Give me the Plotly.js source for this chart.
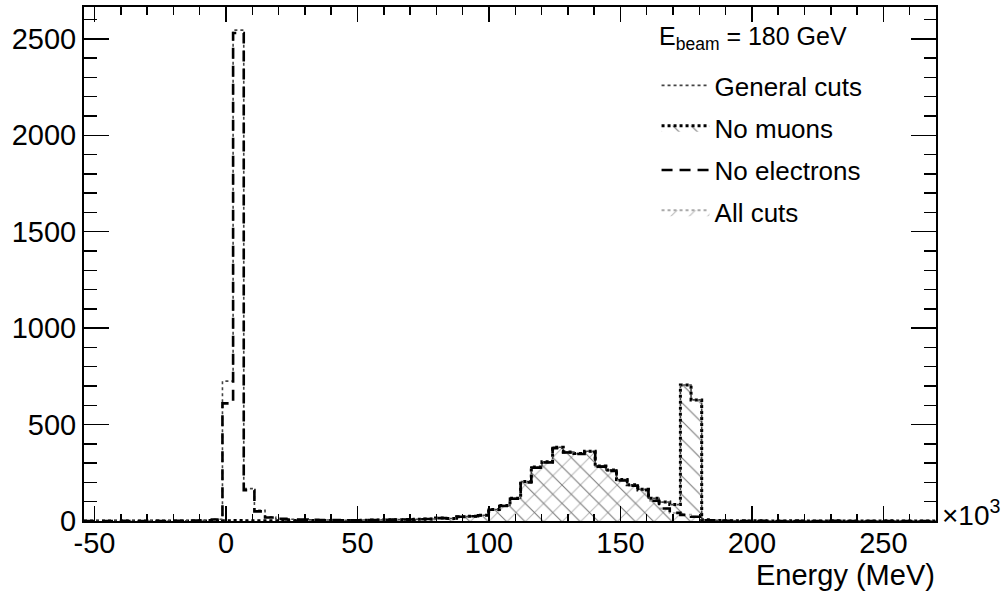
<!DOCTYPE html>
<html>
<head>
<meta charset="utf-8">
<script src="https://cdn.plot.ly/plotly-3.0.1.min.js"></script>
<style>
  html, body { margin: 0; padding: 0; background: #fff; }
  #chart { width: 1002px; height: 593px; }
</style>
</head>
<body>
<div id="chart"></div>
<script>
// Histogram binning (energy in GeV, axis shows x10^3 MeV)
const binLow = -54;
const binWidth = 4.05;
const nBins = 80;

// Bin contents
const generalCuts = [
  0, 0, 0, 1, 0, 0, 1, 0, 1, 1,
  2, 3, 9, 725, 2545, 168, 55, 20, 12, 9,
  7, 6, 5, 5, 4, 4, 5, 5, 6, 7,
  8, 9, 10, 15, 13, 22, 25, 30, 60, 80,
  118, 205, 280, 307, 382, 358, 350, 362, 285, 265,
  215, 188, 165, 118, 98, 85, 705, 628, 6, 3,
  1, 1, 0, 1, 0, 0, 1, 0, 0, 0,
  1, 0, 0, 0, 0, 1, 0, 0, 0, 0
];
const noMuons = [
  0, 0, 0, 0, 0, 0, 0, 0, 0, 0,
  0, 0, 0, 1, 2, 1, 1, 1, 1, 2,
  2, 2, 2, 3, 3, 3, 4, 5, 6, 7,
  8, 9, 10, 15, 13, 22, 25, 30, 60, 80,
  118, 205, 280, 307, 382, 358, 350, 362, 285, 265,
  215, 188, 165, 118, 98, 85, 705, 628, 6, 3,
  1, 1, 0, 1, 0, 0, 1, 0, 0, 0,
  1, 0, 0, 0, 0, 1, 0, 0, 0, 0
];
const noElectrons = [
  0, 0, 0, 1, 0, 0, 1, 0, 1, 1,
  2, 3, 8, 610, 2530, 160, 50, 18, 11, 8,
  7, 6, 5, 5, 4, 4, 5, 5, 6, 7,
  8, 9, 10, 15, 13, 22, 25, 30, 58, 78,
  115, 200, 276, 303, 378, 355, 347, 358, 282, 260,
  210, 183, 160, 105, 65, 42, 32, 22, 4, 2,
  1, 0, 0, 1, 0, 0, 0, 0, 0, 0,
  1, 0, 0, 0, 0, 0, 0, 0, 0, 0
];
const allCuts = [
  0, 0, 0, 0, 0, 0, 0, 0, 0, 0,
  0, 0, 0, 1, 2, 1, 1, 1, 1, 2,
  2, 2, 2, 3, 3, 3, 4, 5, 6, 7,
  8, 9, 10, 15, 13, 22, 25, 30, 58, 78,
  115, 200, 276, 303, 378, 355, 347, 358, 282, 260,
  210, 183, 160, 105, 65, 42, 32, 22, 4, 2,
  1, 0, 0, 1, 0, 0, 0, 0, 0, 0,
  1, 0, 0, 0, 0, 0, 0, 0, 0, 0
];

const xTickVals = [-50, 0, 50, 100, 150, 200, 250];
const xTickText = ['-50', '0', '50', '100', '150', '200', '250'];
const yTickVals = [0, 500, 1000, 1500, 2000, 2500];

// Step outline from the bin definition
function stepX() {
  const xs = [];
  for (let i = 0; i <= nBins; i++) xs.push(binLow + i * binWidth);
  return xs;
}
function stepY(vals) {
  return vals.concat([vals[vals.length - 1]]);
}
const edges = stepX();

const FONT = 'Liberation Sans, Arial, Helvetica, sans-serif';

const traces = [
  {
    name: 'All cuts', legendrank: 4, legendgroup: 'g4',
    x: edges, y: stepY(allCuts), type: 'scatter', mode: 'lines',
    line: { shape: 'hv', color: '#aaaaaa', width: 2, dash: 'dot' },
    fill: 'tozeroy', fillcolor: 'rgba(0,0,0,0)',
    fillpattern: { shape: '/', fgcolor: '#b8b8b8', bgcolor: 'rgba(0,0,0,0)', size: 13, solidity: 0.08 },
    hoverinfo: 'skip'
  },
  {
    name: 'No muons', legendrank: 2, legendgroup: 'g2',
    x: edges, y: stepY(noMuons), type: 'scatter', mode: 'lines',
    line: { shape: 'hv', color: '#000000', width: 3, dash: 'dot' },
    fill: 'tozeroy', fillcolor: 'rgba(0,0,0,0)',
    fillpattern: { shape: '\\', fgcolor: '#777777', bgcolor: 'rgba(0,0,0,0)', size: 13, solidity: 0.08 },
    hoverinfo: 'skip'
  },
  {
    name: 'General cuts', legendrank: 1, legendgroup: 'g1',
    x: edges, y: stepY(generalCuts), type: 'scatter', mode: 'lines',
    line: { shape: 'hv', color: '#444444', width: 1.6, dash: 'dot' },
    hoverinfo: 'skip'
  },
  {
    name: 'No electrons', legendrank: 3, legendgroup: 'g3',
    x: edges, y: stepY(noElectrons), type: 'scatter', mode: 'lines',
    line: { shape: 'hv', color: '#000000', width: 2.6, dash: '11px,7px' },
    hoverinfo: 'skip'
  }
];

const layout = {
  width: 1002, height: 593,
  margin: { l: 84, r: 66, t: 7, b: 72 },
  paper_bgcolor: '#ffffff', plot_bgcolor: '#ffffff',
  font: { family: FONT, color: '#000', size: 29 },
  showlegend: true,
  legend: {
    x: 0.672, xanchor: 'left', y: 0.893, yanchor: 'top',
    bgcolor: 'rgba(0,0,0,0)', borderwidth: 0,
    font: { family: FONT, size: 26, color: '#000' },
    itemwidth: 48, traceorder: 'grouped', tracegroupgap: 5.5
  },
  xaxis: {
    range: [-54, 270], tickmode: 'array', tickvals: xTickVals, ticktext: xTickText,
    ticks: 'inside', ticklen: 15, tickwidth: 1.5, tickcolor: '#000',
    minor: { dtick: 10, tick0: 0, ticks: 'inside', ticklen: 7.5, tickwidth: 1.5, tickcolor: '#000' },
    showline: true, linewidth: 2, linecolor: '#000', mirror: 'allticks',
    showgrid: false, zeroline: false, ticklabelstandoff: -5,
    tickfont: { family: FONT, size: 29, color: '#000' }
  },
  yaxis: {
    range: [0, 2665], tickmode: 'array', tickvals: yTickVals,
    ticks: 'inside', ticklen: 25, tickwidth: 1.5, tickcolor: '#000',
    minor: { dtick: 100, tick0: 0, ticks: 'inside', ticklen: 12.5, tickwidth: 1.5, tickcolor: '#000' },
    showline: true, linewidth: 2, linecolor: '#000', mirror: 'allticks',
    showgrid: false, zeroline: false,
    tickfont: { family: FONT, size: 29, color: '#000' }
  },
  annotations: [
    {
      text: 'E<sub>beam</sub> = 180 GeV', xref: 'paper', yref: 'paper', x: 0.6725, y: 0.94,
      xanchor: 'left', yanchor: 'middle', showarrow: false,
      font: { family: FONT, size: 25, color: '#000' }
    },
    {
      text: 'Energy (MeV)', xref: 'paper', yref: 'paper', x: 1, y: 0,
      xanchor: 'right', yanchor: 'bottom', yshift: -71, borderpad: 0, showarrow: false,
      font: { family: FONT, size: 29, color: '#000' }
    },
    {
      text: '×10<sup>3</sup>', xref: 'paper', yref: 'paper', x: 1, y: 0,
      xanchor: 'left', yanchor: 'middle', xshift: 4, yshift: 8, showarrow: false,
      font: { family: FONT, size: 28, color: '#000' }
    }
  ]
};

Plotly.newPlot('chart', traces, layout, { staticPlot: true, displayModeBar: false });
</script>
</body>
</html>
